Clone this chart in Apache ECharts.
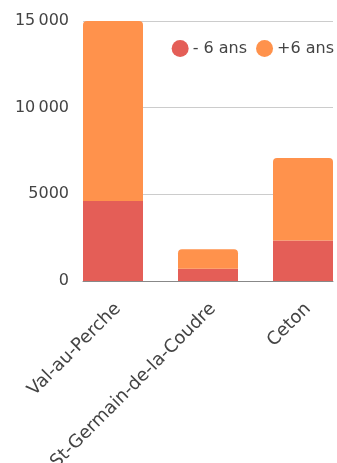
<!DOCTYPE html>
<html><head><meta charset="utf-8">
<script src="https://cdn.jsdelivr.net/npm/echarts@6/dist/echarts.min.js"></script>
<style>html,body{margin:0;padding:0;background:#fff}#c{width:337px;height:463px}</style>
</head><body><div id="c"></div>
<script>
var categories = ['Val-au-Perche', 'St-Germain-de-la-Coudre', 'Ceton'];
var seriesNames = ['- 6 ans', '+6 ans'];
var moins6 = [4620, 700, 2330];
var plus6 = [10380, 1130, 4770];
var yTicks = [0, 5000, 10000, 15000];

var FONT = 'DejaVu Sans';
var chart = echarts.init(document.getElementById('c'));
function fmt(v){ var s = String(v); if (v >= 10000) s = s.slice(0, s.length-3) + '\u202f' + s.slice(-3); return s; }
chart.setOption({
  animation: false,
  textStyle: {fontFamily: FONT},
  color: ['#e45e57', '#ff924c'],
  legend: {
    data: seriesNames, right: -2, top: 35, icon: 'circle', itemWidth: 17, itemHeight: 17, itemGap: 9,
    textStyle: {fontFamily: FONT, fontSize: 16, color: '#444', padding: [0,0,0,-1]}
  },
  grid: [
    {left: 83, right: 4, top: 21, bottom: 182, outerBoundsMode: 'none', containLabel: false},
    {left: 65.5, width: 285, top: 21, bottom: 182, outerBoundsMode: 'none', containLabel: false}
  ],
  xAxis: [
    {gridIndex: 0, type: 'category', data: categories, axisTick: {show: false}, axisLabel: {show: false},
     axisLine: {lineStyle: {color: '#888'}}},
    {gridIndex: 1, type: 'category', data: categories, axisTick: {show: false}, axisLine: {show: false},
     axisLabel: {interval: 0, rotate: 45, margin: 30, padding: [0, -7, 0, 0], fontFamily: FONT, fontSize: 18, color: '#444'}}
  ],
  yAxis: [
    {gridIndex: 0, type: 'value', min: yTicks[0], max: yTicks[yTicks.length-1], interval: 5000,
     axisLabel: {formatter: fmt, margin: 14, fontFamily: FONT, fontSize: 16, color: '#444'},
     splitLine: {lineStyle: {color: '#ccc'}}, axisLine: {show: false}, axisTick: {show: false}},
    {gridIndex: 1, type: 'value', min: yTicks[0], max: yTicks[yTicks.length-1], interval: 5000,
     show: false, splitLine: {show: false}}
  ],
  series: [
    {name: seriesNames[0], type: 'bar', stack: 's', xAxisIndex: 1, yAxisIndex: 1, barWidth: 60, data: moins6},
    {name: seriesNames[1], type: 'bar', stack: 's', xAxisIndex: 1, yAxisIndex: 1, barWidth: 60, data: plus6,
     itemStyle: {borderRadius: [4,4,0,0]}}
  ]
});
</script></body></html>
